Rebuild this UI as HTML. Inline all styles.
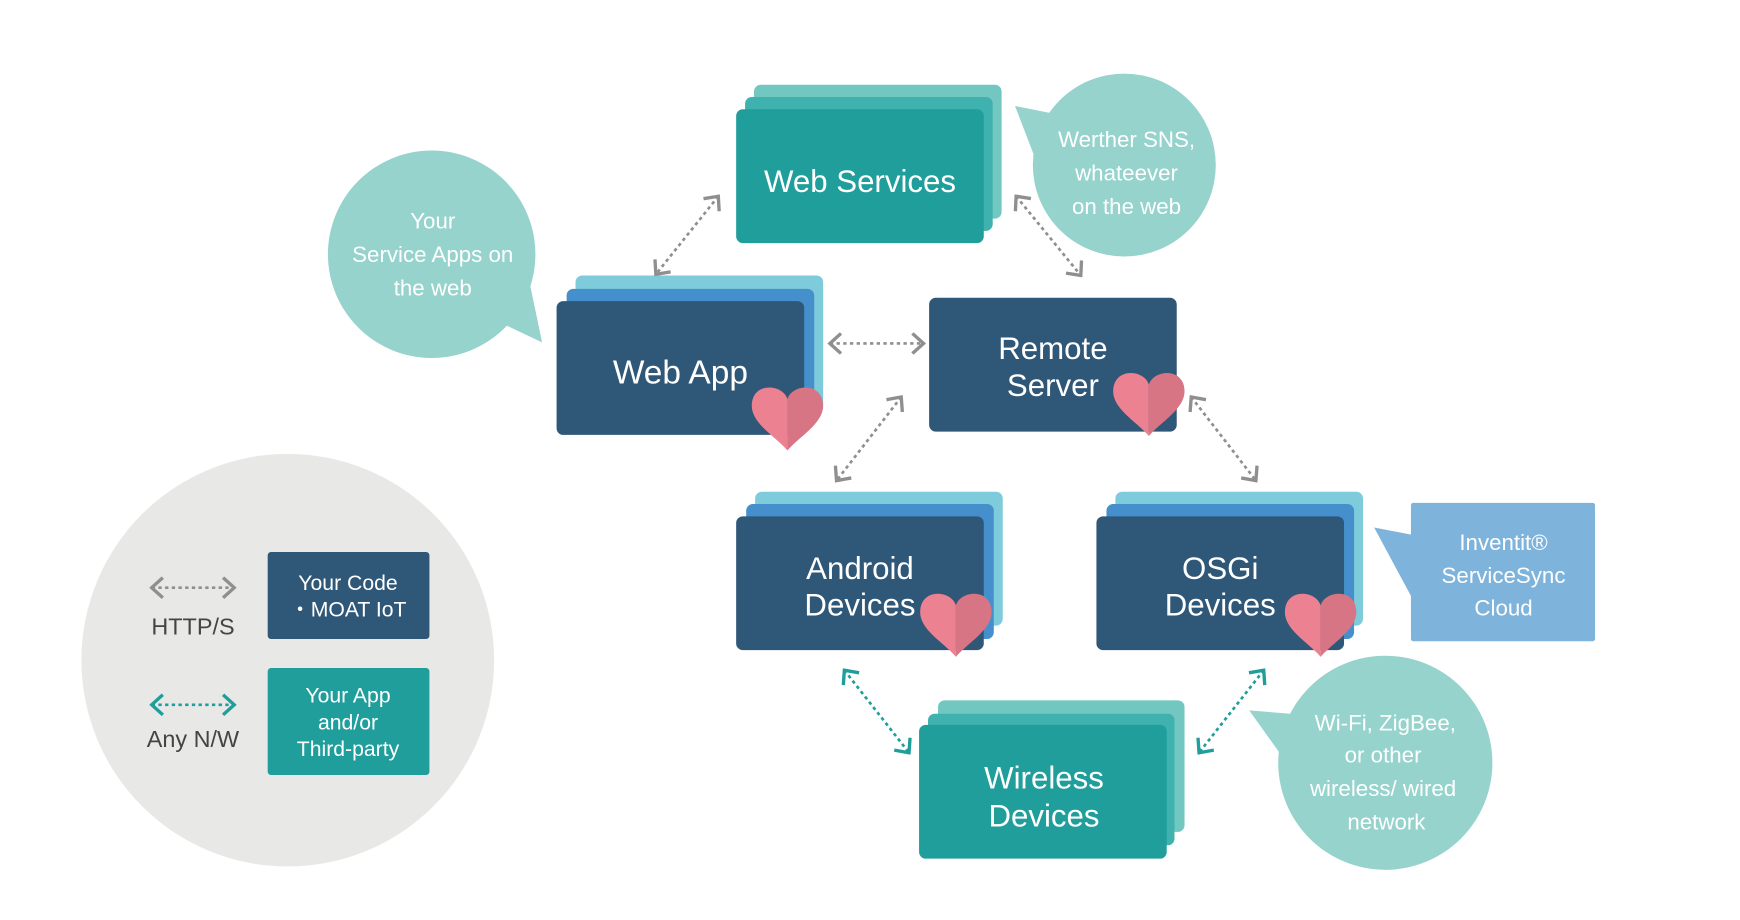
<!DOCTYPE html>
<html><head><meta charset="utf-8"><style>
html,body{margin:0;padding:0;background:#fff;width:1740px;height:920px;overflow:hidden}
svg{display:block}
text{font-family:"Liberation Sans",sans-serif;fill:#fff;text-anchor:middle}
</style></head><body>
<svg width="1740" height="920" viewBox="0 0 1560 825" preserveAspectRatio="none" xmlns="http://www.w3.org/2000/svg">
<defs>
<marker id="ag" viewBox="0 0 14 20" refX="12" refY="10" markerWidth="14" markerHeight="20" markerUnits="userSpaceOnUse" orient="auto-start-reverse">
<polyline points="2,1 12,10 2,19" fill="none" stroke="#8f8f8f" stroke-width="3"/></marker>
<marker id="at" viewBox="0 0 14 20" refX="12" refY="10" markerWidth="14" markerHeight="20" markerUnits="userSpaceOnUse" orient="auto-start-reverse">
<polyline points="2,1 12,10 2,19" fill="none" stroke="#1f9e9b" stroke-width="3"/></marker>
<g id="heart">
<path d="M0,12 C-4,-2 -32,-4 -32,18 C-32,34 -10,46 0,58 Z" fill="#ec8191"/>
<path d="M0,12 C4,-2 32,-4 32,18 C32,34 10,46 0,58 Z" fill="#d87585"/>
</g>
</defs>

<!-- legend -->
<circle cx="258" cy="592" r="185" fill="#e8e8e7"/>
<line x1="136" y1="527" x2="210" y2="527" stroke="#8f8f8f" stroke-width="2.4" stroke-dasharray="3 3" marker-start="url(#ag)" marker-end="url(#ag)"/>
<text x="173" y="569" font-size="21" style="fill:#444">HTTP/S</text>
<rect x="240" y="495" width="145" height="78" rx="3" fill="#2f5777"/>
<text x="312" y="529" font-size="19">Your Code</text>
<text x="312" y="553" font-size="19">・MOAT IoT</text>
<line x1="136" y1="632" x2="210" y2="632" stroke="#1f9e9b" stroke-width="2.4" stroke-dasharray="3 3" marker-start="url(#at)" marker-end="url(#at)"/>
<text x="173" y="670" font-size="21" style="fill:#444">Any N/W</text>
<rect x="240" y="599" width="145" height="96" rx="3" fill="#1f9e9b"/>
<text x="312" y="630" font-size="19">Your App</text>
<text x="312" y="654" font-size="19">and/or</text>
<text x="312" y="678" font-size="19">Third-party</text>

<!-- bubbles -->
<circle cx="387" cy="228" r="93" fill="#95d3cc"/>
<polygon points="450,290 486,307 472,240" fill="#95d3cc"/>
<text x="388" y="205" font-size="20">Your</text>
<text x="388" y="235" font-size="20">Service Apps on</text>
<text x="388" y="265" font-size="20">the web</text>

<circle cx="1008" cy="148" r="82" fill="#95d3cc"/>
<polygon points="910,95 960,105 935,160" fill="#95d3cc"/>
<text x="1010" y="132" font-size="20">Werther SNS,</text>
<text x="1010" y="162" font-size="20">whateever</text>
<text x="1010" y="192" font-size="20">on the web</text>

<circle cx="1242" cy="684" r="96" fill="#95d3cc"/>
<polygon points="1120,637 1180,642 1165,700" fill="#95d3cc"/>
<text x="1242" y="655" font-size="20">Wi-Fi, ZigBee,</text>
<text x="1240" y="684" font-size="20">or other</text>
<text x="1240" y="714" font-size="20">wireless/ wired</text>
<text x="1243" y="744" font-size="20">network</text>

<!-- Inventit -->
<polygon points="1232,473 1268,480 1268,540" fill="#7eb3dc"/>
<rect x="1265" y="451" width="165" height="124" rx="2" fill="#7eb3dc"/>
<text x="1348" y="493" font-size="20">Inventit®</text>
<text x="1348" y="523" font-size="20">ServiceSync</text>
<text x="1348" y="552" font-size="20">Cloud</text>

<!-- Web Services -->
<rect x="676" y="76" width="222" height="120" rx="6" fill="#72c7c0"/>
<rect x="668" y="87" width="222" height="120" rx="6" fill="#3fb1ae"/>
<rect x="660" y="98" width="222" height="120" rx="6" fill="#1f9e9b"/>
<text x="771" y="172" font-size="28">Web Services</text>

<!-- Web App -->
<rect x="516" y="247" width="222" height="122" rx="6" fill="#7ecbdb"/>
<rect x="508" y="259" width="222" height="121" rx="6" fill="#4590cc"/>
<rect x="499" y="270" width="222" height="120" rx="6" fill="#2f5777"/>
<text x="610" y="344" font-size="30">Web App</text>
<use href="#heart" x="706" y="346"/>

<!-- Remote Server -->
<rect x="833" y="267" width="222" height="120" rx="6" fill="#2f5777"/>
<text x="944" y="322" font-size="28">Remote</text>
<text x="944" y="355" font-size="28">Server</text>
<use href="#heart" x="1030" y="333"/>

<!-- Android -->
<rect x="677" y="441" width="222" height="120" rx="6" fill="#7ecbdb"/>
<rect x="669" y="452" width="222" height="121" rx="6" fill="#4590cc"/>
<rect x="660" y="463" width="222" height="120" rx="6" fill="#2f5777"/>
<text x="771" y="519" font-size="28">Android</text>
<text x="771" y="552" font-size="28">Devices</text>
<use href="#heart" x="857" y="531"/>

<!-- OSGi -->
<rect x="1000" y="441" width="222" height="120" rx="6" fill="#7ecbdb"/>
<rect x="992" y="452" width="222" height="121" rx="6" fill="#4590cc"/>
<rect x="983" y="463" width="222" height="120" rx="6" fill="#2f5777"/>
<text x="1094" y="519" font-size="28">OSGi</text>
<text x="1094" y="552" font-size="28">Devices</text>
<use href="#heart" x="1184" y="531"/>

<!-- Wireless -->
<rect x="841" y="628" width="221" height="118" rx="6" fill="#72c7c0"/>
<rect x="832" y="640" width="221" height="118" rx="6" fill="#3fb1ae"/>
<rect x="824" y="650" width="222" height="120" rx="6" fill="#1f9e9b"/>
<text x="936" y="707" font-size="28">Wireless</text>
<text x="936" y="741" font-size="28">Devices</text>

<!-- connectors -->
<g stroke-width="2.4" stroke-dasharray="3 3" fill="none">
<line x1="644" y1="176" x2="588" y2="246" stroke="#8f8f8f" marker-start="url(#ag)" marker-end="url(#ag)"/>
<line x1="911" y1="176" x2="969" y2="247" stroke="#8f8f8f" marker-start="url(#ag)" marker-end="url(#ag)"/>
<line x1="744" y1="308" x2="828" y2="308" stroke="#8f8f8f" marker-start="url(#ag)" marker-end="url(#ag)"/>
<line x1="808" y1="356" x2="750" y2="431" stroke="#8f8f8f" marker-start="url(#ag)" marker-end="url(#ag)"/>
<line x1="1068" y1="356" x2="1126" y2="431" stroke="#8f8f8f" marker-start="url(#ag)" marker-end="url(#ag)"/>
<line x1="757" y1="601" x2="815" y2="675" stroke="#1f9e9b" marker-start="url(#at)" marker-end="url(#at)"/>
<line x1="1133" y1="601" x2="1075" y2="675" stroke="#1f9e9b" marker-start="url(#at)" marker-end="url(#at)"/>
</g>
</svg>
</body></html>
